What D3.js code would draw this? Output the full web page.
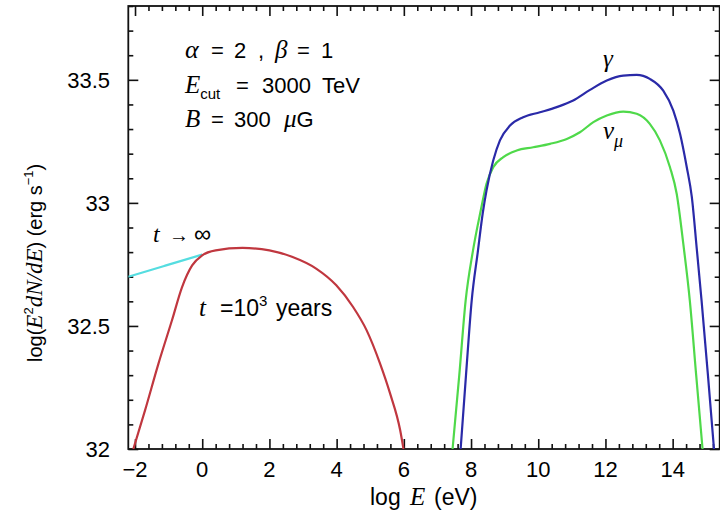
<!DOCTYPE html>
<html><head><meta charset="utf-8">
<script src="https://cdn.jsdelivr.net/npm/d3@7"></script>
<style>
html,body{margin:0;padding:0;background:#fff;}
svg{display:block;}
text{font-family:"Liberation Sans",Arial,sans-serif;fill:#000;}
.m{font-family:"Liberation Serif","Times New Roman",serif;font-style:italic;}
</style></head>
<body>
<script>
// ---- data (log E in eV, log(E^2 dN/dE) in erg/s) ----
const redX  = [-2.05,-1.7,-1.3,-0.9,-0.6,-0.3,0,0.4,1.2,2.0,2.69,3.39,3.99,4.49,4.89,5.29,5.59,5.89,5.99];
const redY  = [32.0,32.158,32.348,32.523,32.658,32.746,32.787,32.807,32.817,32.807,32.78,32.733,32.665,32.577,32.483,32.348,32.226,32.077,32.0];
const cyanX = [-2.2,-1.1,0];
const cyanY = [32.70,32.745,32.79];
const blueX = [7.69,7.85,8.02,8.2,8.35,8.46,8.66,8.86,9.16,9.55,10.05,10.55,11.04,11.54,12.04,12.53,12.93,13.32,13.72,14.02,14.22,14.42,14.57,14.72,14.86,15.05,15.23];
const blueY = [32.0,32.3,32.604,32.8,32.96,33.05,33.172,33.254,33.314,33.348,33.368,33.389,33.416,33.459,33.497,33.517,33.520,33.504,33.456,33.375,33.281,33.145,33.024,32.81,32.604,32.3,32.0];
const greenX = [7.45,7.65,7.84,8.05,8.29,8.46,8.66,8.96,9.36,9.85,10.35,10.85,11.24,11.64,12.04,12.53,12.93,13.32,13.62,13.92,14.12,14.32,14.51,14.7,14.89];
const greenY = [32.0,32.3,32.604,32.8,32.97,33.078,33.145,33.186,33.213,33.226,33.240,33.260,33.287,33.328,33.355,33.371,33.362,33.321,33.254,33.145,33.037,32.83,32.604,32.3,32.0];
const xMajor = [-2,0,2,4,6,8,10,12,14];
const yMajor = [32,32.5,33,33.5];
const yLabels = ["32","32.5","33","33.5"];

const W=720,H=519;
const L=128.3,R=719.7,T=6,B=449;
const svg=d3.select("body").append("svg").attr("width",W).attr("height",H);
const x=d3.scaleLinear().domain([-2.2,15.4]).range([L,R]);
const y=d3.scaleLinear().domain([32,33.8]).range([B,T]);

svg.append("clipPath").attr("id","clip").append("rect")
  .attr("x",L).attr("y",T).attr("width",R-L).attr("height",B-T);

const xMinor=d3.range(-2,15.41,0.4).map(v=>+v.toFixed(2)).filter(v=>v>-2.2&&v<15.4);
const yMinor=d3.range(32,33.81,0.1).map(v=>+v.toFixed(2));
const isMajX=v=>Math.abs(v/2-Math.round(v/2))<1e-6;
const isMajY=v=>Math.abs(v/0.5-Math.round(v/0.5))<1e-6;

const gB=svg.append("g").attr("transform",`translate(0,${B})`)
  .call(d3.axisTop(x).tickValues(xMinor).tickSize(0).tickFormat(""));
const gT=svg.append("g").attr("transform",`translate(0,${T})`)
  .call(d3.axisBottom(x).tickValues(xMinor).tickSize(0).tickFormat(""));
const gLft=svg.append("g").attr("transform",`translate(${L},0)`)
  .call(d3.axisRight(y).tickValues(yMinor).tickSize(0).tickFormat(""));
const gRt=svg.append("g").attr("transform",`translate(${R},0)`)
  .call(d3.axisLeft(y).tickValues(yMinor).tickSize(0).tickFormat(""));
[gB,gT,gLft,gRt].forEach(g=>g.select(".domain").remove());
gB.selectAll(".tick line").attr("y2",d=>isMajX(d)?-10:-5);
gT.selectAll(".tick line").attr("y2",d=>isMajX(d)?10:5);
gLft.selectAll(".tick line").attr("x2",d=>isMajY(d)?10:5);
gRt.selectAll(".tick line").attr("x2",d=>isMajY(d)?-10:-5);
svg.selectAll(".tick line").attr("stroke","#111").attr("stroke-width",1.6);

svg.append("rect").attr("x",L).attr("y",T).attr("width",R-L).attr("height",B-T)
  .attr("fill","none").attr("stroke","#111").attr("stroke-width",1.8);

svg.selectAll(".xl").data(xMajor).enter().append("text")
  .attr("x",d=>x(d)).attr("y",477).attr("text-anchor","middle")
  .attr("font-size",22).text(d=>d<0?"\u2212"+Math.abs(d):String(d));
svg.selectAll(".yl").data(yMajor).enter().append("text")
  .attr("x",110).attr("y",d=>y(d)+8).attr("text-anchor","end")
  .attr("font-size",22).text((d,i)=>yLabels[i]);

const line=d3.line().x(d=>x(d[0])).y(d=>y(d[1])).curve(d3.curveMonotoneX);
const zip=(a,b)=>a.map((v,i)=>[v,b[i]]);
const curves=[[cyanX,cyanY,"#55dde0"],[redX,redY,"#c0373f"],[greenX,greenY,"#4fd94a"],[blueX,blueY,"#2a2aa8"]];
const gc=svg.append("g").attr("clip-path","url(#clip)");
curves.forEach(c=>gc.append("path").attr("d",line(zip(c[0],c[1])))
  .attr("fill","none").attr("stroke",c[2]).attr("stroke-width",2.2));

function seg(parts,xx,yy,fs){
  const el=svg.append("text").attr("x",xx).attr("y",yy).attr("font-size",fs);
  parts.forEach(p=>{const s=el.append("tspan").text(p.t);
    if(p.m) s.attr("class","m");
    if(p.x!==undefined) s.attr("x",p.x);
    if(p.dy!==undefined) s.attr("dy",p.dy);
    if(p.fs) s.attr("font-size",p.fs);});
  return el;
}
seg([{t:"\u03b1",m:1,x:185,fs:26},{t:"=",x:211},{t:"2",x:234},{t:",",x:258},{t:"\u03b2",m:1,x:275,fs:25},{t:"=",x:297},{t:"1",x:321}],186,58,22);
seg([{t:"E",m:1,x:185,fs:25},{t:"cut",fs:15,dy:6},{t:"=",x:236,dy:-6},{t:"3000",x:262},{t:"TeV",x:322}],186,93,22);
seg([{t:"B",m:1,x:185,fs:25},{t:"=",x:211},{t:"300",x:234},{t:"\u03bc",m:1,x:284,fs:25},{t:"G"}],186,127,22);
seg([{t:"t",m:1,fs:24,x:153},{t:"\u2192",fs:20,x:169},{t:"\u221e",fs:24,x:194}],153,242,21);
seg([{t:"t",m:1,fs:25,x:199},{t:"=10",x:220},{t:"3",fs:15,dy:-10},{t:"years",x:276,dy:10}],199,316,23);
seg([{t:"\u03b3",m:1}],603,67,25);
seg([{t:"\u03bd",m:1},{t:"\u03bc",m:1,fs:18,dy:8}],603,139,25);

seg([{t:"log",x:370},{t:"E",m:1,fs:25,x:410},{t:"(eV)",x:434}],370,505,23);
const yt=svg.append("text").attr("transform","translate(42,362) rotate(-90)").attr("font-size",20);
yt.append("tspan").text("log(");
yt.append("tspan").attr("class","m").attr("font-size",23).text("E");
yt.append("tspan").attr("font-size",13).attr("dy",-9).text("2");
yt.append("tspan").attr("class","m").attr("font-size",23).attr("dy",9).text("dN/dE");
yt.append("tspan").text(")  (erg s");
yt.append("tspan").attr("font-size",13).attr("dy",-9).text("\u22121");
yt.append("tspan").attr("dy",9).text(")");
</script>
</body></html>
